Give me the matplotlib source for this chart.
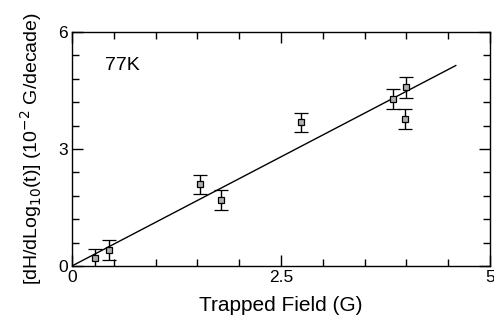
import numpy as np
import matplotlib
matplotlib.use("Agg")
from matplotlib import pyplot as plt
from matplotlib.ticker import MultipleLocator

# measured points (trapped field in G, creep rate in 1e-2 G/decade)
field = [0.27, 0.44, 1.53, 1.78, 2.74, 3.84, 3.99, 3.98]
rate = [0.20, 0.41, 2.09, 1.69, 3.68, 4.28, 4.58, 3.77]
rate_err = [0.23, 0.25, 0.25, 0.25, 0.25, 0.25, 0.27, 0.25]

# fitted straight line
fit_x = [0.0, 4.59]
fit_y = [0.0, 5.14]

plt.rcParams['font.family'] = ['Liberation Sans', 'DejaVu Sans']

fig = plt.figure(figsize=(4.94, 3.22), dpi=100)
ax = fig.add_axes([0.1457, 0.174, 0.8463, 0.7266])

ax.plot(fit_x, fit_y, color='black', lw=1.0)
ax.errorbar(field, rate, yerr=rate_err, fmt='s', ms=4.5, mfc='#b0b0b0', mec='black',
            mew=0.9, ecolor='black', elinewidth=1.0, capsize=5, capthick=1.0)

ax.text(0.4, 5.15, '77K', fontsize=14, va='center', ha='left')

ax.set_xlim(0, 5)
ax.set_ylim(0, 6)
ax.xaxis.set_major_locator(MultipleLocator(2.5))
ax.xaxis.set_minor_locator(MultipleLocator(0.5))
ax.yaxis.set_major_locator(MultipleLocator(3))
ax.yaxis.set_minor_locator(MultipleLocator(0.6))
ax.xaxis.set_major_formatter(plt.FuncFormatter(lambda v, p: '%g' % v))
ax.tick_params(which='both', direction='in', top=True, right=True, labelsize=12.5, pad=3)
ax.tick_params(which='major', length=8, width=1.0)
ax.tick_params(which='minor', length=5, width=1.0)
for s in ax.spines.values():
    s.set_linewidth(1.0)

ax.set_xlabel('Trapped Field (G)', fontsize=15, labelpad=8)
ax.set_ylabel(r'[dH/dLog$_{10}$(t)] (10$^{-2}$ G/decade)', fontsize=14, labelpad=10)

fig.savefig('out.png', dpi=100)
